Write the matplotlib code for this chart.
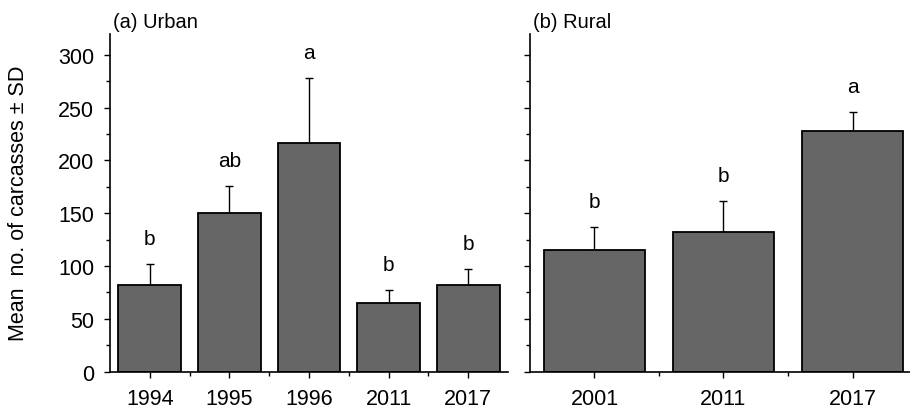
import numpy as np
from matplotlib import pyplot as plt
from matplotlib.ticker import MultipleLocator, FixedLocator

plt.rcParams['font.family'] = ['Liberation Sans', 'DejaVu Sans']

urban_years = ['1994', '1995', '1996', '2011', '2017']
urban_mean = [82, 150, 216, 65, 82]
urban_sd = [20, 26, 62, 12, 15]
urban_letters = ['b', 'ab', 'a', 'b', 'b']

rural_years = ['2001', '2011', '2017']
rural_mean = [115, 132, 228]
rural_sd = [22, 30, 18]
rural_letters = ['b', 'b', 'a']


def draw_panel(ax, years, mean, sd, letters, title, show_labels):
    x = np.arange(len(years))
    ax.bar(x, mean, width=0.79, color='#666666', edgecolor='black',
           linewidth=1.3, zorder=2)
    ax.errorbar(x, mean, yerr=[np.zeros(len(sd)), sd], fmt='none',
                ecolor='black', elinewidth=1.0, capsize=3, capthick=1.0,
                zorder=1)
    for xi, m, s, lab in zip(x, mean, sd, letters):
        ax.text(xi, m + s + 24, lab, ha='center', va='center', fontsize=15)
    ax.set_xlim(-0.5, len(years) - 0.5)
    ax.set_ylim(0, 320)
    ax.set_xticks(x)
    ax.set_xticklabels(years)
    ax.xaxis.set_minor_locator(FixedLocator(x[:-1] + 0.5))
    ax.yaxis.set_major_locator(MultipleLocator(50))
    ax.yaxis.set_minor_locator(MultipleLocator(25))
    ax.tick_params(axis='both', which='major', direction='out', length=4.5,
                   width=1.0, labelsize=15.5)
    ax.tick_params(axis='y', which='major', pad=7)
    ax.tick_params(axis='x', which='major', pad=7)
    ax.tick_params(axis='both', which='minor', direction='out', length=3,
                   width=1.0)
    if not show_labels:
        ax.tick_params(axis='y', labelleft=False)
    for side in ['top', 'right']:
        ax.spines[side].set_visible(False)
    for side in ['left', 'bottom']:
        ax.spines[side].set_linewidth(1.2)
    ax.text(0.008, 1.018, title, transform=ax.transAxes, ha='left',
            va='baseline', fontsize=14.5)


fig = plt.figure(figsize=(9.1, 4.14), dpi=100)
ax1 = fig.add_axes([0.1209, 0.0998, 0.4374, 0.8167])
ax2 = fig.add_axes([0.5824, 0.0998, 0.4253, 0.8167])

draw_panel(ax1, urban_years, urban_mean, urban_sd, urban_letters,
           '(a) Urban', True)
draw_panel(ax2, rural_years, rural_mean, rural_sd, rural_letters,
           '(b) Rural', False)
ax1.set_ylabel('Mean  no. of carcasses ± SD', fontsize=15.5)
ax1.yaxis.set_label_coords(-0.2035, 0.5)

fig.savefig('out.png', dpi=100)
